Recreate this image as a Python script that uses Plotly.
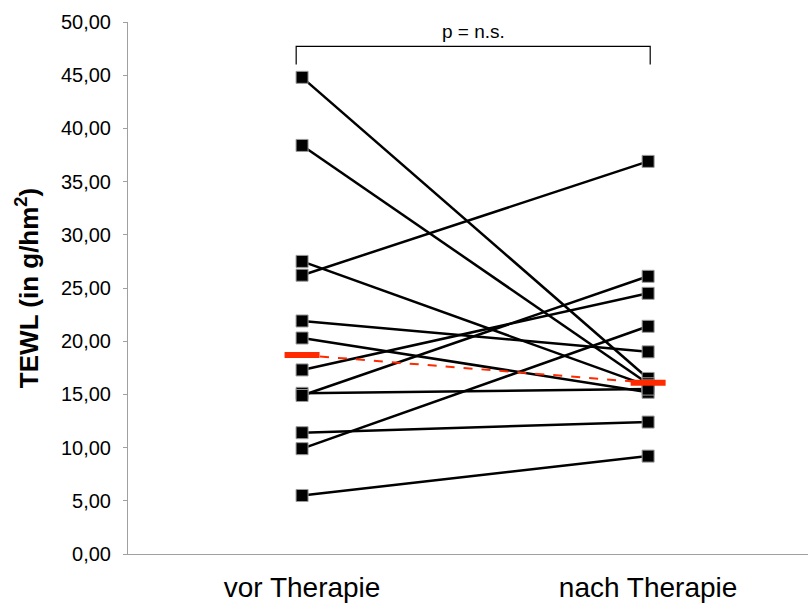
import plotly.graph_objects as go

# ---- data ----
categories = ["vor Therapie", "nach Therapie"]
vor = [44.8, 38.4, 27.5, 26.2, 21.9, 20.3, 17.3, 15.1, 14.9, 11.4, 9.9, 5.5]
nach = [16.5, 16.0, 15.8, 36.9, 19.0, 15.2, 24.5, 15.5, 26.1, 12.4, 21.4, 9.2]
median_vals = [18.7, 16.1]
y_ticks = [0, 5, 10, 15, 20, 25, 30, 35, 40, 45, 50]
y_tick_labels = ["0,00", "5,00", "10,00", "15,00", "20,00", "25,00",
                 "30,00", "35,00", "40,00", "45,00", "50,00"]
p_label = "p = n.s."
y_title = "TEWL (in g/hm<sup>2</sup>)"

cat_x = [0, 1]

fig = go.Figure()

# paired lines
lx, ly = [], []
for a, b in zip(vor, nach):
    lx += [cat_x[0], cat_x[1], None]
    ly += [a, b, None]
fig.add_trace(go.Scatter(x=lx, y=ly, mode="lines",
                         line=dict(color="black", width=2.5),
                         hoverinfo="skip", showlegend=False))

# median dashed connector
fig.add_trace(go.Scatter(x=cat_x, y=median_vals, mode="lines",
                         line=dict(color="#FF2A00", width=2, dash="dash"),
                         showlegend=False))

# markers
fig.add_trace(go.Scatter(x=[cat_x[0]] * len(vor) + [cat_x[1]] * len(nach),
                         y=vor + nach, mode="markers",
                         marker=dict(symbol="square", size=12, color="black",
                                     line=dict(color="#9a9a9a", width=1)),
                         showlegend=False))

# median bars
fig.add_trace(go.Scatter(x=cat_x, y=median_vals, mode="markers",
                         marker=dict(symbol="line-ew", size=25,
                                     line=dict(color="#FF2A00", width=6)),
                         showlegend=False))

# significance bracket
fig.add_shape(type="path",
              path="M -0.017,46.0 L -0.017,47.7 L 1.006,47.7 L 1.006,46.0",
              xref="x", yref="y", line=dict(color="black", width=1.2))
fig.add_annotation(x=0.494, y=49.1, xref="x", yref="y", text=p_label,
                   showarrow=False, font=dict(size=19, color="black"))

fig.update_layout(
    width=808, height=603,
    margin=dict(l=128, r=0, t=22, b=46),
    paper_bgcolor="white", plot_bgcolor="white",
    font=dict(family="Liberation Sans, Arial, sans-serif", color="black"),
    xaxis=dict(range=[-0.503, 1.462], tickvals=cat_x, ticktext=categories,
               showgrid=False, zeroline=False, showline=True,
               linecolor="#a0a0a0", linewidth=1, ticks="",
               tickfont=dict(size=28), ticklabelstandoff=8),
    yaxis=dict(range=[0, 50], tickvals=y_ticks, ticktext=y_tick_labels,
               showgrid=False, zeroline=False, showline=True,
               linecolor="#a0a0a0", linewidth=1, ticks="outside", ticklen=4,
               tickcolor="#a0a0a0", tickfont=dict(size=20),
               ticklabelstandoff=8,
               title=dict(text=y_title, font=dict(size=26, weight="bold"),
                          standoff=14)),
)

fig.write_html("out.html")
